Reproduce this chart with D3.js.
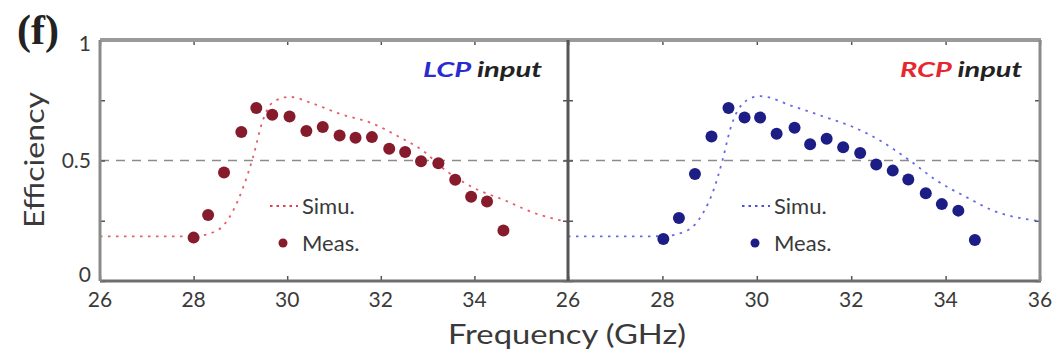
<!DOCTYPE html>
<html>
<head>
<meta charset="utf-8">
<script src="https://cdn.jsdelivr.net/npm/d3@7"></script>
<style>
  html, body { margin: 0; padding: 0; background: #fff; }
  svg { display: block; }
</style>
</head>
<body>
<svg id="chart" width="1060" height="360" font-family="Lato, 'Open Sans', sans-serif"></svg>
<script>
// Frequency axis ticks (GHz) and efficiency ticks
const xTickValues = [26, 28, 30, 32, 34, 36];
const xTickLabelsLeft = [26, 28, 30, 32, 34];
const xTickLabelsRight = [26, 28, 30, 32, 34, 36];
const yTickValues = [0, 0.25, 0.5, 0.75, 1];
const yTickLabels = [0, 0.5, 1];

// LCP input: measured efficiency
const lcpMeasFreq = [28.0, 28.31, 28.65, 29.02, 29.34, 29.68, 30.05, 30.41, 30.76, 31.12,
                     31.46, 31.81, 32.18, 32.52, 32.86, 33.23, 33.59, 33.93, 34.27, 34.62];
const lcpMeasEff  = [0.18, 0.274, 0.45, 0.618, 0.718, 0.69, 0.683, 0.622, 0.639, 0.604,
                     0.594, 0.597, 0.549, 0.535, 0.497, 0.489, 0.42, 0.35, 0.33, 0.21];

// LCP input: simulated efficiency
const lcpSimFreq = [26.0, 27.0, 28.0, 28.49, 28.84, 29.06, 29.27, 29.48, 29.7, 30.05,
                    30.55, 31.12, 31.83, 32.4, 32.89, 33.39, 33.96, 34.67, 35.24, 35.88, 36.0];
const lcpSimEff  = [0.185, 0.185, 0.186, 0.208, 0.29, 0.389, 0.514, 0.667, 0.743, 0.764,
                    0.736, 0.694, 0.653, 0.597, 0.542, 0.458, 0.389, 0.333, 0.285, 0.25, 0.245];

// RCP input: measured efficiency
const rcpMeasFreq = [28.02, 28.35, 28.69, 29.04, 29.4, 29.74, 30.07, 30.42, 30.8, 31.13,
                     31.48, 31.83, 32.19, 32.53, 32.88, 33.21, 33.58, 33.92, 34.27, 34.62];
const rcpMeasEff  = [0.174, 0.261, 0.444, 0.6, 0.718, 0.678, 0.678, 0.611, 0.636, 0.567,
                     0.59, 0.555, 0.531, 0.483, 0.458, 0.421, 0.364, 0.319, 0.292, 0.17];

// RCP input: simulated efficiency
const rcpSimFreq = [26.0, 27.0, 28.0, 28.51, 28.87, 29.08, 29.29, 29.43, 29.79, 30.07,
                    30.77, 31.48, 32.04, 32.61, 33.24, 33.81, 34.45, 35.01, 35.93, 36.0];
const rcpSimEff  = [0.185, 0.185, 0.186, 0.208, 0.285, 0.375, 0.514, 0.625, 0.75, 0.767,
                    0.725, 0.678, 0.639, 0.583, 0.5, 0.417, 0.347, 0.292, 0.25, 0.248];

const svg = d3.select("#chart");
const axisColor = "#8a8a8a";
const textColor = "#3a3a3a";

const yTop = 40, yBottom = 281;
const y = d3.scaleLinear().domain([0, 1]).range([yBottom, yTop]);

const panels = [
  { x0: 100, x1: 568, labels: xTickLabelsLeft, measF: lcpMeasFreq, measE: lcpMeasEff,
    simF: lcpSimFreq, simE: lcpSimEff, measColor: "#861b2c", simColor: "#e2404f",
    tagMain: "LCP", tagColor: "#2a2ad0", tagX: 423, tagW: 119, legX: 270 },
  { x0: 568, x1: 1040, labels: xTickLabelsRight, measF: rcpMeasFreq, measE: rcpMeasEff,
    simF: rcpSimFreq, simE: rcpSimEff, measColor: "#1d1d86", simColor: "#4b4fe0",
    tagMain: "RCP", tagColor: "#e8262f", tagX: 900, tagW: 122, legX: 742 }
];

// Dashed reference line at 50 % efficiency across both panels
svg.append("line")
  .attr("x1", 100).attr("x2", 1040)
  .attr("y1", y(0.5)).attr("y2", y(0.5))
  .attr("stroke", "#8c8c8c").attr("stroke-width", 1.6)
  .attr("stroke-dasharray", "9,7");

panels.forEach((p) => {
  const x = d3.scaleLinear().domain([26, 36]).range([p.x0, p.x1]);
  const g = svg.append("g");

  // inward ticks on all four edges
  const bottomAxis = d3.axisBottom(x).tickValues(xTickValues).tickSizeInner(-5).tickSizeOuter(0).tickFormat("");
  const topAxis = d3.axisTop(x).tickValues(xTickValues).tickSizeInner(-5).tickSizeOuter(0).tickFormat("");
  g.append("g").attr("transform", `translate(0,${yBottom})`).call(bottomAxis);
  g.append("g").attr("transform", `translate(0,${yTop})`).call(topAxis);
  const leftAxis = d3.axisLeft(y).tickValues(yTickValues).tickSizeInner(-5).tickSizeOuter(0).tickFormat("");
  const rightAxis = d3.axisRight(y).tickValues(yTickValues).tickSizeInner(-5).tickSizeOuter(0).tickFormat("");
  g.append("g").attr("transform", `translate(${p.x0},0)`).call(leftAxis);
  g.append("g").attr("transform", `translate(${p.x1},0)`).call(rightAxis);
  g.selectAll(".domain").remove();
  g.selectAll(".tick line").attr("stroke", "#555").attr("stroke-width", 1.5);

  // frequency tick labels
  g.selectAll("text.xlab").data(p.labels).enter().append("text")
    .attr("class", "xlab")
    .attr("x", d => x(d)).attr("y", 307)
    .attr("text-anchor", "middle")
    .attr("font-size", 21).attr("fill", textColor)
    .text(d => d);

  // simulated curve
  const line = d3.line().x(d => x(d[0])).y(d => y(d[1])).curve(d3.curveMonotoneX);
  g.append("path")
    .datum(p.simF.map((f, i) => [f, p.simE[i]]))
    .attr("d", line)
    .attr("fill", "none")
    .attr("stroke", p.simColor).attr("stroke-width", 1.8)
    .attr("stroke-dasharray", "2.5,5.5")
    .attr("opacity", 0.85);

  // measured points
  g.selectAll("circle.meas").data(p.measF.map((f, i) => [f, p.measE[i]])).enter()
    .append("circle").attr("class", "meas")
    .attr("cx", d => x(d[0])).attr("cy", d => y(d[1]))
    .attr("r", 6).attr("fill", p.measColor);

  // legend
  g.append("line")
    .attr("x1", p.legX).attr("x2", p.legX + 28)
    .attr("y1", 206).attr("y2", 206)
    .attr("stroke", p.simColor).attr("stroke-width", 1.8)
    .attr("stroke-dasharray", "2.5,4");
  g.append("text").attr("x", p.legX + 32).attr("y", 214)
    .attr("font-size", 22).attr("fill", textColor).text("Simu.");
  g.append("circle").attr("cx", p.legX + 13).attr("cy", 243).attr("r", 4.5).attr("fill", p.measColor);
  g.append("text").attr("x", p.legX + 32).attr("y", 251)
    .attr("font-size", 22).attr("fill", textColor).text("Meas.");

  // input polarization tag
  const tag = g.append("text").attr("x", p.tagX).attr("y", 77)
    .attr("font-size", 20).attr("font-weight", "bold").attr("font-style", "italic")
    .attr("textLength", p.tagW).attr("lengthAdjust", "spacingAndGlyphs");
  tag.append("tspan").attr("fill", p.tagColor).text(p.tagMain);
  tag.append("tspan").attr("fill", "#222").text(" input");
});

// panel frames
svg.append("line").attr("x1", 100).attr("x2", 1041).attr("y1", yTop).attr("y2", yTop)
  .attr("stroke", "#9a9a9a").attr("stroke-width", 4);
svg.append("line").attr("x1", 100).attr("x2", 1041).attr("y1", yBottom).attr("y2", yBottom)
  .attr("stroke", "#6e6e6e").attr("stroke-width", 3);
[100, 568, 1040].forEach((xx, i) => {
  svg.append("line").attr("x1", xx).attr("x2", xx).attr("y1", yTop).attr("y2", yBottom)
    .attr("stroke", i === 1 ? "#555" : axisColor).attr("stroke-width", 3);
});

// efficiency tick labels
svg.selectAll("text.ylab").data(yTickLabels).enter().append("text")
  .attr("class", "ylab")
  .attr("x", 91).attr("y", d => y(d) + 7 - (d === 0 ? 6 : 0) + (d === 1 ? 4 : 0))
  .attr("text-anchor", "end")
  .attr("font-size", 21).attr("fill", textColor)
  .text(d => d);

// axis titles
svg.append("text")
  .attr("transform", `translate(44,160) rotate(-90)`)
  .attr("text-anchor", "middle")
  .attr("font-size", 26).attr("fill", textColor)
  .attr("textLength", 136).attr("lengthAdjust", "spacingAndGlyphs")
  .text("Efficiency");
svg.append("text")
  .attr("x", 567).attr("y", 344)
  .attr("text-anchor", "middle")
  .attr("font-size", 26).attr("fill", textColor)
  .attr("textLength", 238).attr("lengthAdjust", "spacingAndGlyphs")
  .text("Frequency (GHz)");

// panel label
svg.append("text")
  .attr("x", 17).attr("y", 44)
  .attr("font-family", "'Liberation Serif', 'DejaVu Serif', serif")
  .attr("font-size", 42).attr("font-weight", "bold").attr("fill", "#222")
  .text("(f)");
</script>
</body>
</html>
